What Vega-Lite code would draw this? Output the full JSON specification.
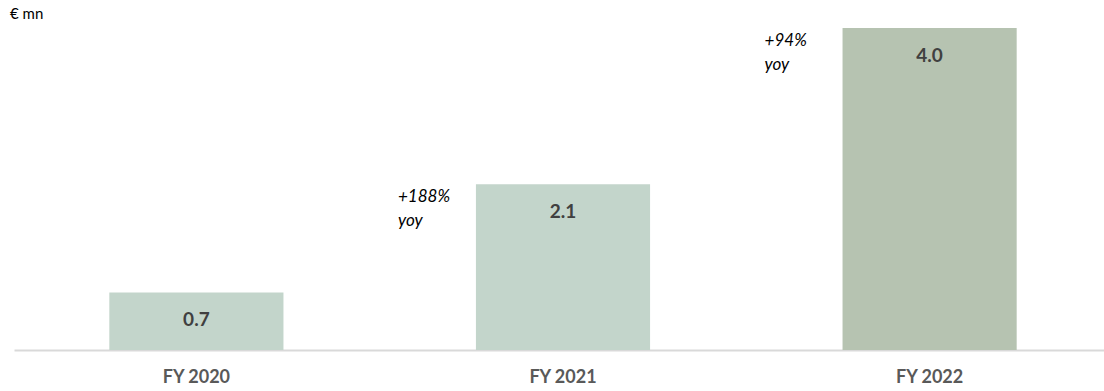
{
  "$schema": "https://vega.github.io/schema/vega-lite/v6.json",
  "autosize": {"type": "none"},
  "padding": {"left": 14, "top": 28, "right": 0, "bottom": 41},
  "width": 1098,
  "height": 322,
  "background": "white",
  "title": {"text": "€ mn", "anchor": "start", "frame": "group", "dx": -4, "offset": 6, "fontSize": 15, "font": "Lato", "fontWeight": "normal", "color": "#000000"},
  "config": {"view": {"stroke": null}},
  "data": {"values": [
    {"year": "FY 2020", "value": 0.715, "label": "0.7", "yoy": null, "color": "#C3D5CB"},
    {"year": "FY 2021", "value": 2.06, "label": "2.1", "yoy": "+188%", "color": "#C3D5CB"},
    {"year": "FY 2022", "value": 4.0, "label": "4.0", "yoy": "+94%", "color": "#B6C3B1"}
  ]},
  "encoding": {
    "x": {"field": "year", "type": "nominal", "sort": null,
      "scale": {"paddingInner": 0.525, "paddingOuter": 0.26},
      "axis": {"title": null, "labelAngle": 0, "ticks": false, "domainColor": "#D9D9D9", "domainWidth": 2, "labelPadding": 18, "labelFont": "Lato", "labelFontSize": 18, "labelFontWeight": "bold", "labelColor": "#595959"}},
    "y": {"field": "value", "type": "quantitative", "scale": {"domain": [0, 4.0], "nice": false}, "axis": null}
  },
  "layer": [
    {"mark": {"type": "bar"}, "encoding": {"color": {"field": "color", "type": "nominal", "scale": null}}},
    {"mark": {"type": "text", "baseline": "middle", "dy": 28, "font": "Lato", "fontSize": 19, "fontWeight": "bold", "color": "#404040"},
      "encoding": {"text": {"field": "label"}}},
    {"transform": [{"filter": "datum.yoy != null"}, {"calculate": "[datum.yoy, 'yoy']", "as": "yoyText"}],
      "mark": {"type": "text", "align": "left", "baseline": "middle", "dx": -165, "dy": 13, "font": "Lato", "fontSize": 17, "fontStyle": "italic", "color": "#000000", "lineHeight": 24},
      "encoding": {"text": {"field": "yoyText"}}}
  ]
}
